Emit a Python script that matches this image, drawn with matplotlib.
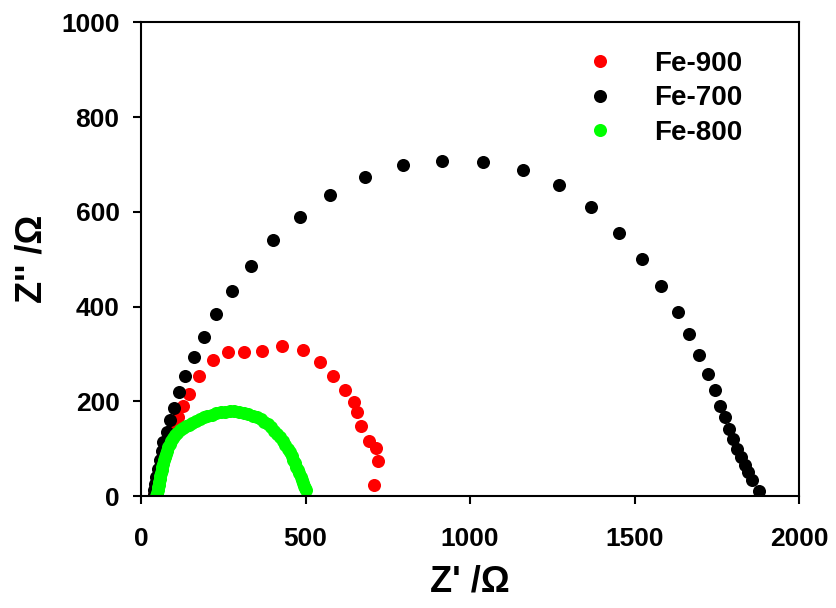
import matplotlib
matplotlib.use("Agg")
import matplotlib.pyplot as plt

# Nyquist data (Z' and Z'' in ohm)
fe900_re = [40, 43, 47, 52, 58, 65, 72, 80, 88, 98, 111, 127, 146, 177, 220, 263, 312, 369, 429, 492,
            545, 585, 621, 648, 656, 669, 692, 714, 721, 708]
fe900_im = [2, 12, 24, 37, 52, 68, 85, 103, 122, 143, 166, 190, 215, 253, 287, 304, 304, 307, 317, 308,
            282, 254, 224, 199, 177, 147, 116, 101, 73, 23]

fe700_re = [38, 40, 43, 47, 52, 58, 63, 68, 78, 88, 101, 115, 135, 160, 191, 228, 277, 333, 401, 483,
            575, 681, 795, 916, 1040, 1161, 1271, 1368, 1452, 1522, 1580, 1632, 1666, 1697, 1723, 1745,
            1761, 1774, 1788, 1800, 1812, 1825, 1837, 1844, 1856, 1878]
fe700_im = [2, 12, 25, 40, 58, 77, 96, 115, 136, 160, 186, 219, 253, 293, 336, 384, 434, 486, 540, 590,
            636, 673, 699, 708, 705, 688, 656, 610, 556, 500, 443, 389, 343, 298, 258, 223,
            191, 166, 142, 120, 99, 82, 66, 51, 34, 11]

fe800_re = [46, 48, 50, 51, 53, 54, 56, 57, 59, 61, 63, 65, 68, 70, 73, 76, 80, 83, 87, 92,
            97, 103, 110, 118, 127, 136, 146, 156, 167, 178, 190, 202, 215, 228, 242, 256, 270, 284,
            298, 312, 326, 339, 352, 364, 375, 386, 396, 405, 414, 423, 431, 439, 446, 452, 458, 463,
            468, 472, 477, 481, 485, 488, 491, 494, 497, 501]
fe800_im = [0, 3, 7, 12, 18, 24, 30, 36, 42, 48, 55, 61, 68, 75, 82, 89, 96, 103, 109, 116,
            122, 128, 134, 139, 144, 148, 151, 155, 159, 163, 166, 169, 172, 175, 177, 178, 179, 179,
            178, 176, 173, 170, 167, 162, 157, 152, 145, 138, 131, 124, 116, 108, 100, 92, 84, 76,
            69, 62, 55, 48, 41, 34, 27, 21, 16, 13]

fontname = "Liberation Sans"
markersize = 9.4

fig = plt.figure(figsize=(8.37, 6.08), dpi=100)
ax = fig.add_axes([0.1685, 0.1842, 0.7861, 0.7788])

ax.plot(fe900_re, fe900_im, 'o', color="#ff0000", markersize=markersize, markeredgewidth=0, label="Fe-900")
ax.plot(fe700_re, fe700_im, 'o', color="black", markersize=markersize, markeredgewidth=0, label="Fe-700")
ax.plot(fe800_re, fe800_im, 'o', color="#00ff00", markersize=markersize, markeredgewidth=0, label="Fe-800")

ax.set_xlim(0, 2000)
ax.set_ylim(0, 1000)
ax.set_xticks([0, 500, 1000, 1500, 2000])
ax.set_yticks([0, 200, 400, 600, 800, 1000])

for spine in ax.spines.values():
    spine.set_linewidth(1.5)
ax.tick_params(direction='out', length=5.5, width=1.5, top=False, right=False)
ax.tick_params(axis='x', pad=16.5)
ax.tick_params(axis='y', pad=10)
for lbl in ax.get_xticklabels() + ax.get_yticklabels():
    lbl.set_fontname(fontname)
    lbl.set_fontweight("bold")
    lbl.set_fontsize(19)

ax.set_xlabel("Z' /\u03a9", fontname=fontname, fontweight="bold", fontsize=26, labelpad=10)
ax.set_ylabel("Z'' /\u03a9", fontname=fontname, fontweight="bold", fontsize=26, labelpad=8)

leg = ax.legend(loc='upper left', bbox_to_anchor=(0.676, 0.94), frameon=False, borderpad=0,
                borderaxespad=0, handlelength=1.0, handletextpad=1.45, labelspacing=0.3,
                prop={'family': fontname, 'weight': 'bold', 'size': 20})

fig.savefig("out.png", dpi=100)
